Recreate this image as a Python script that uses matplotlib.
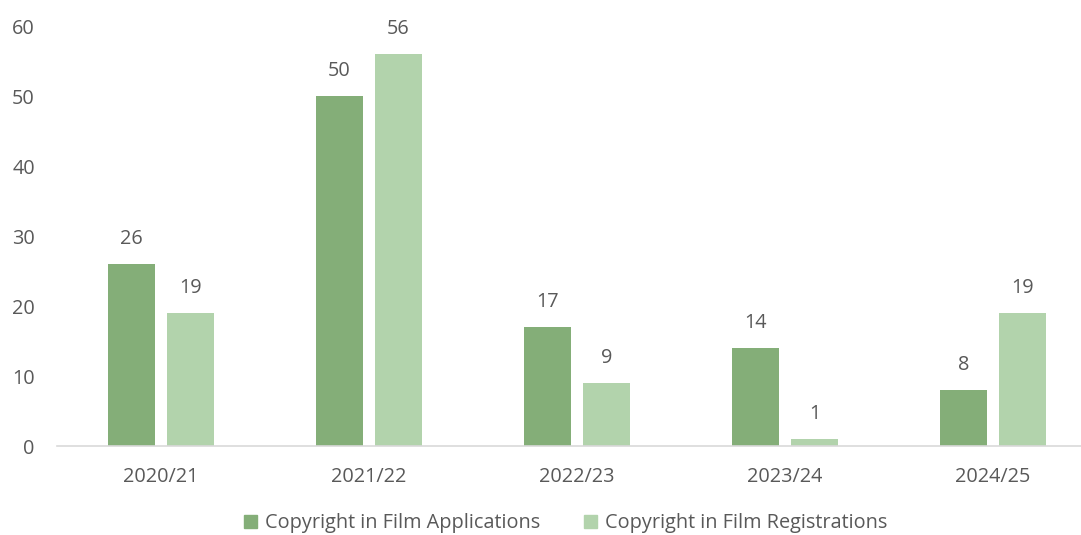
import numpy as np
import matplotlib.pyplot as plt
from matplotlib.patches import Patch

years = ['2020/21', '2021/22', '2022/23', '2023/24', '2024/25']
applications = [26, 50, 17, 14, 8]
registrations = [19, 56, 9, 1, 19]

dark_green = '#84AE78'
light_green = '#B2D3AC'
txt = '#595959'

plt.rcParams['font.family'] = ['Open Sans', 'DejaVu Sans']

fig = plt.figure(figsize=(10.81, 5.35), dpi=100)
ax = fig.add_axes([57/1081., 89/535., 1040/1081., 420/535.])

x = np.arange(len(years))
w = 0.222
off = 0.142
b1 = ax.bar(x - off, applications, w, color=dark_green)
b2 = ax.bar(x + off, registrations, w, color=light_green)

for bars in (b1, b2):
  for rect in bars:
    h = rect.get_height()
    ax.annotate('%d' % h, (rect.get_x() + rect.get_width()/2., h), xytext=(0, 11),
                textcoords='offset points', ha='center', va='bottom', fontsize=14.3, color=txt)

ax.set_xlim(-0.5, 4.5)
ax.set_ylim(0, 60)
ax.set_yticks(range(0, 61, 10))
ax.set_xticks(x)
ax.set_xticklabels(years)
ax.tick_params(axis='both', length=0, labelsize=14.3, labelcolor=txt)
ax.tick_params(axis='x', pad=15)
ax.tick_params(axis='y', pad=16)
for s in ['top', 'right', 'left']:
  ax.spines[s].set_visible(False)
ax.spines['bottom'].set_color('#D9D9D9')
ax.spines['bottom'].set_linewidth(1.2)

handles = [Patch(color=dark_green, label='Copyright in Film Applications'),
           Patch(color=light_green, label='Copyright in Film Registrations')]
leg = fig.legend(handles=handles, loc='center', bbox_to_anchor=(0.523, 0.022), ncol=2,
                 frameon=False, fontsize=14.3, handlelength=0.65, handleheight=0.65,
                 handletextpad=0.4, columnspacing=2.2)
for t in leg.get_texts():
  t.set_color(txt)

fig.savefig('out.png', dpi=100)
